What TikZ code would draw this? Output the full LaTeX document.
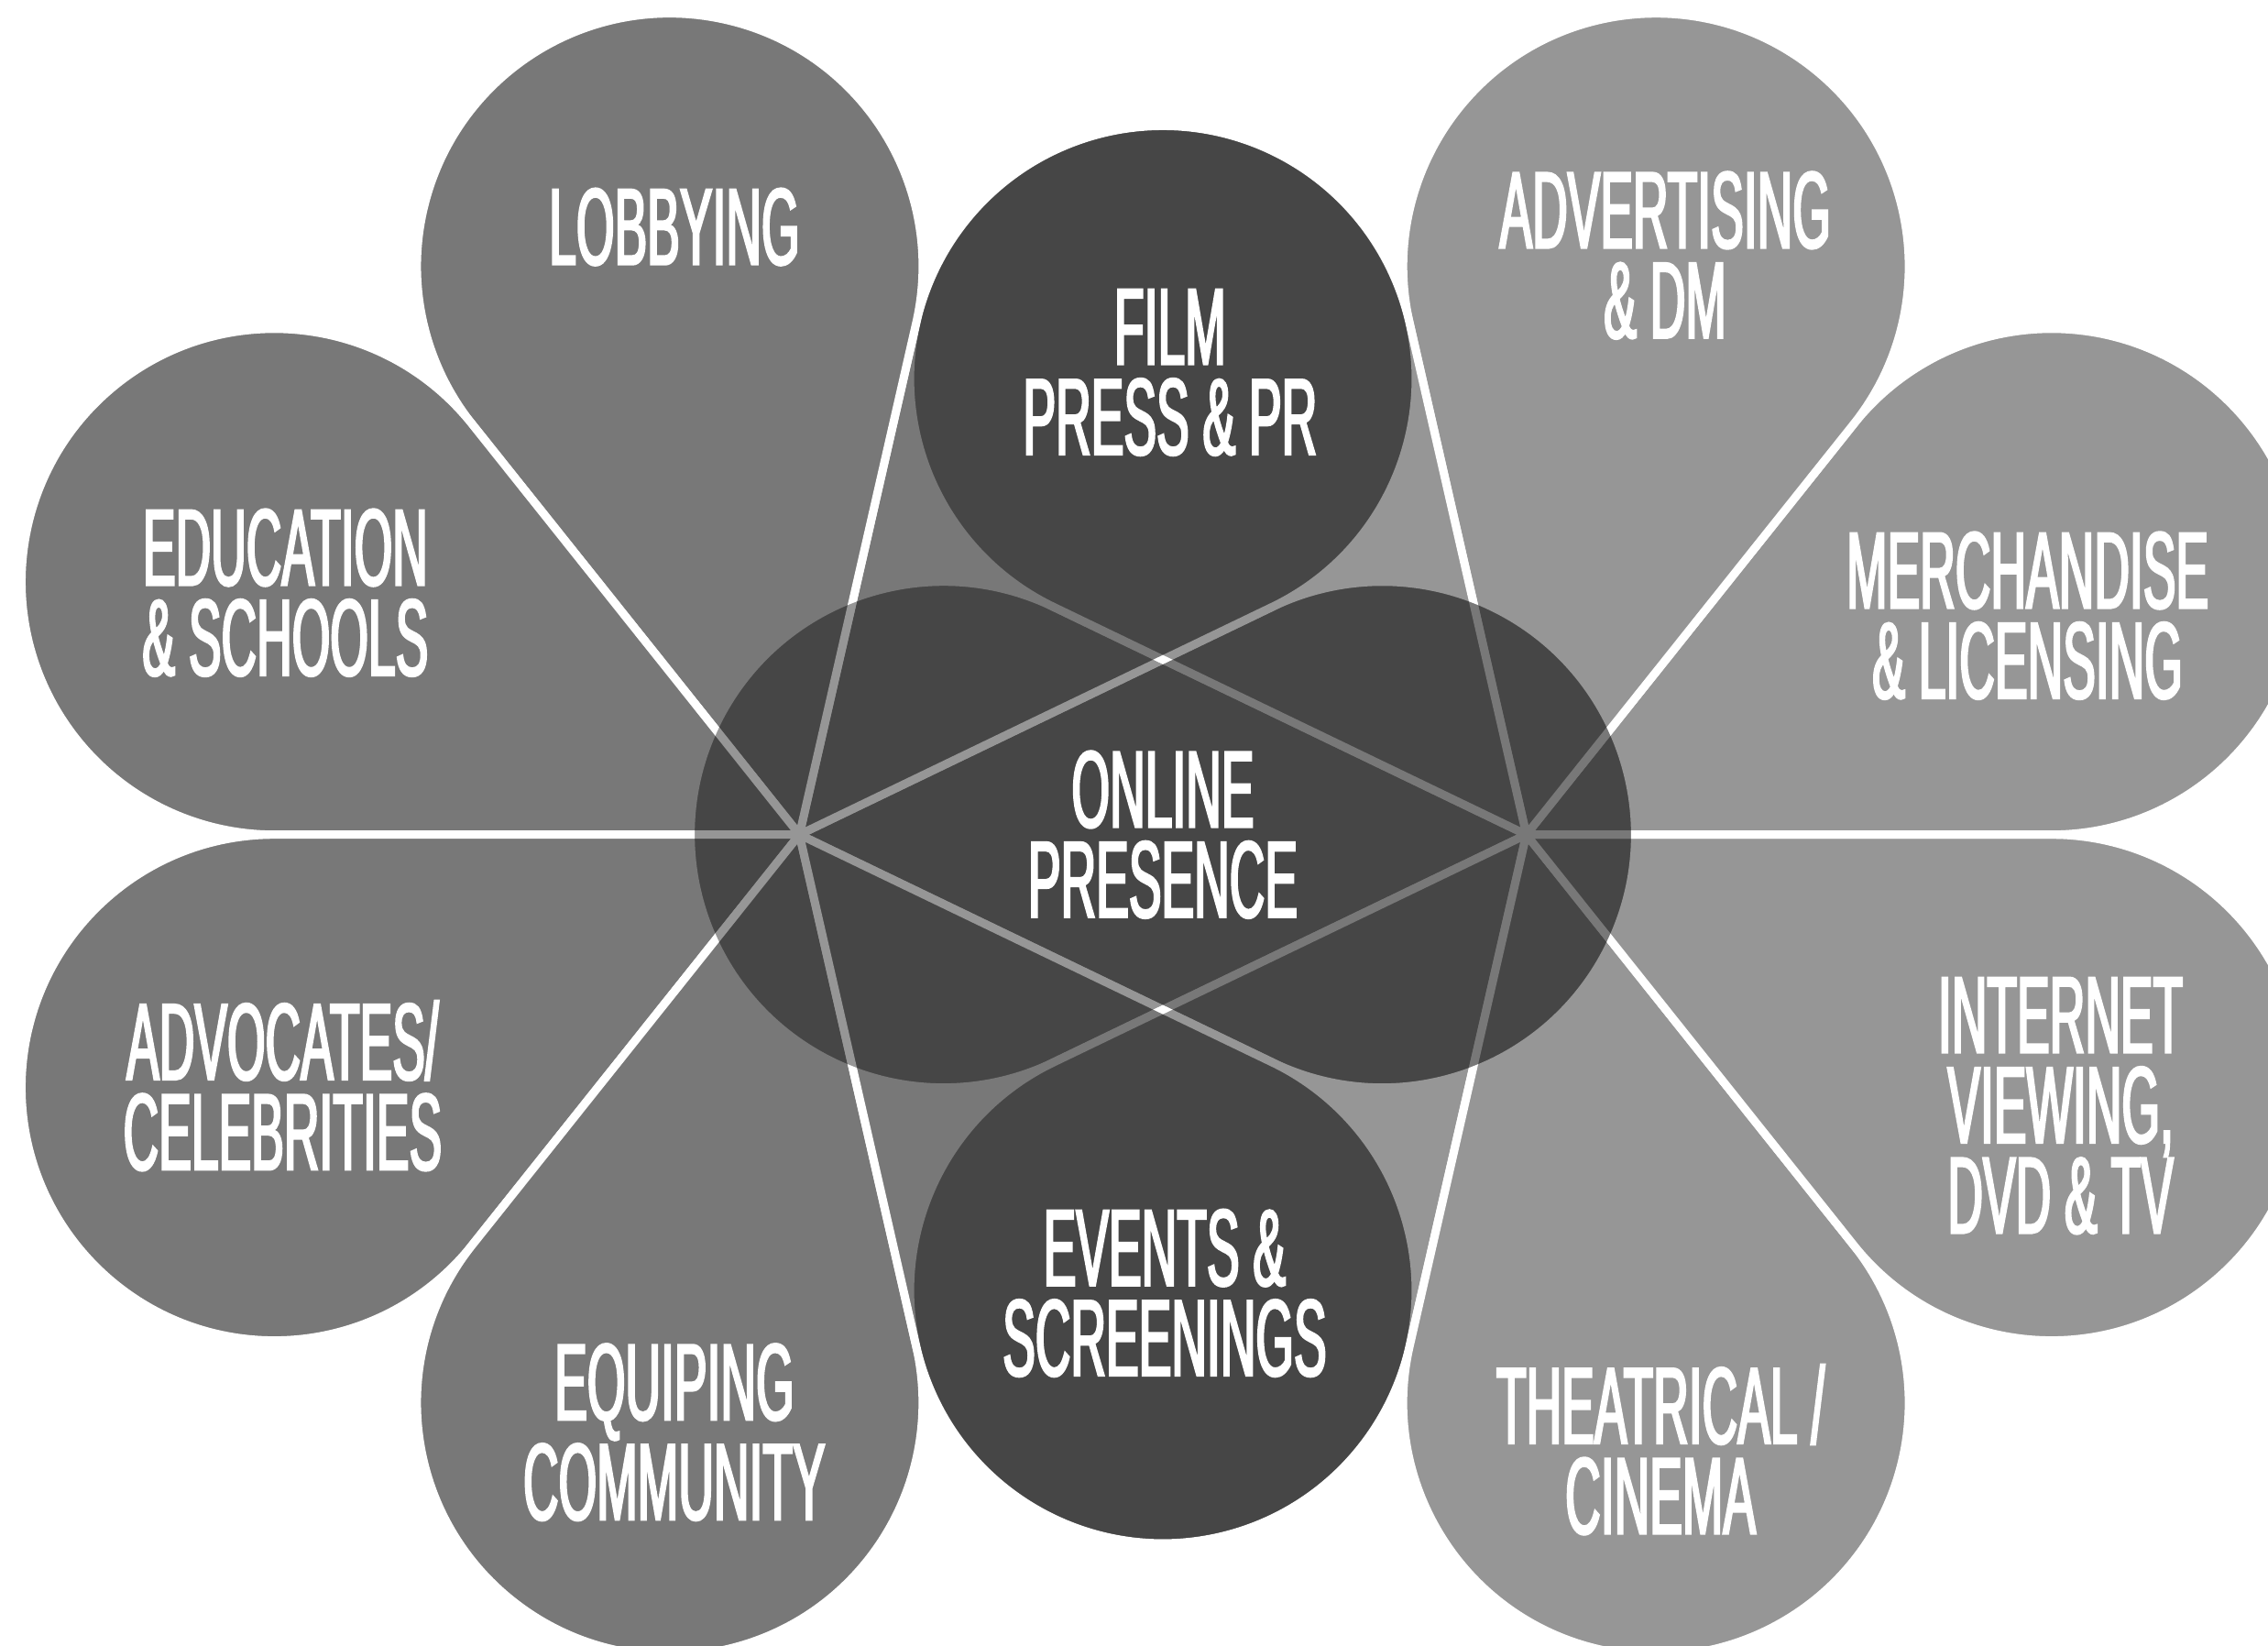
\documentclass[tikz,border=0pt]{standalone}
\usepackage{fontspec}
\newfontfamily\petalfont[FakeStretch=0.45, FakeBold=2]{Liberation Sans}
\usetikzlibrary{calc}

\definecolor{leftgrey}{HTML}{787878}
\definecolor{rightgrey}{HTML}{969696}

\tikzstyle{petal} = [draw=white, line width=0.9mm, line join=round]
\tikzstyle{petaltext} = [text=white, align=center, inner sep=0pt,
	font=\petalfont\fontsize{33.8}{28}\selectfont]

% petal: hub to centre, radius of the round end, hub to tangent point
\def\pd{6.36}
\def\pr{2.7595}
\def\pt{5.7302}

\begin{document}
\begin{tikzpicture}
	\useasboundingbox (0,0) rectangle (24.75,17.95);
	\coordinate (hubL) at (8.724,8.843);
	\coordinate (hubR) at (16.656,8.843);
	\coordinate (mid) at (12.69,8.843);

	% centres of the round ends
	\foreach \i in {0,...,6} {
		\path (hubL) ++(\i*360/7:\pd) coordinate (L\i);
		\path (hubR) ++(180+\i*360/7:\pd) coordinate (R\i);
	}

	% left flower
	\foreach \i in {0,...,6} {
		\pgfmathsetmacro{\a}{\i*360/7}
		\path [petal, fill=leftgrey] (hubL) -- ++(\a-25.714:\pt)
			arc [start angle=\a-115.714, end angle=\a+115.714, radius=\pr] -- cycle;
	}

	% right flower, multiplied over the left one
	\begin{scope}[blend mode=multiply]
	\begin{scope}[transparency group]
	\foreach \i in {0,...,6} {
		\pgfmathsetmacro{\a}{180+\i*360/7}
		\path [petal, fill=rightgrey] (hubR) -- ++(\a-25.714:\pt)
			arc [start angle=\a-115.714, end angle=\a+115.714, radius=\pr] -- cycle;
	}
	\end{scope}
	\end{scope}

	\node [petaltext] (online) at (mid) {ONLINE\\PRESENCE};
	\node [petaltext, xshift=0.8mm, yshift=0.7mm] (film) at (L1) {FILM\\PRESS \& PR};
	\node [petaltext, xshift=0.5mm, yshift=4.3mm] (lobbying) at (L2) {LOBBYING};
	\node [petaltext, xshift=1.2mm, yshift=-1.2mm] (education) at (L3) {EDUCATION\\\& SCHOOLS};
	\node [petaltext, xshift=0.9mm, yshift=0.2mm] (advocates) at (L4) {ADVOCATES/\\CELEBRITIES};
	\node [petaltext, xshift=0.5mm, yshift=-3.2mm] (equiping) at (L5) {EQUIPING\\COMMUNITY};
	\node [petaltext, xshift=0.2mm, yshift=-0.3mm] (events) at (L6) {EVENTS \&\\SCREENINGS};
	\node [petaltext, xshift=0.5mm, yshift=-5.1mm] (theatrical) at (R2) {THEATRICAL /\\CINEMA};
	\node [petaltext, xshift=1mm, yshift=-2mm] (internet) at (R3) {INTERNET\\VIEWING,\\DVD \& TV};
	\node [petaltext, xshift=-2.6mm, yshift=-3.7mm] (merchandise) at (R4) {MERCHANDISE\\\& LICENSING};
	\node [petaltext, xshift=1mm, yshift=1.2mm] (advertising) at (R5) {ADVERTISING\\\& DM};
\end{tikzpicture}
\end{document}
